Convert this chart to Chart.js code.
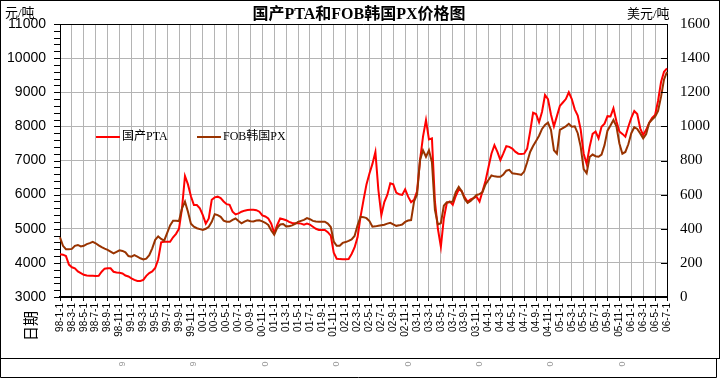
<!DOCTYPE html>
<html><head><meta charset="utf-8">
<script src="https://cdn.jsdelivr.net/npm/chart.js@4/dist/chart.umd.min.js"></script>
<style>html,body{margin:0;padding:0;background:#fff;overflow:hidden}#wrap{width:721px;height:379px;position:relative}</style>
</head><body><div id="wrap"><canvas id="c" width="721" height="379"></canvas></div>
<script>
const chartTitle = '国产PTA和FOB韩国PX价格图';
const leftUnit = '元/吨';
const rightUnit = '美元/吨';
const xTitle = '日期';
const seriesNames = ['国产PTA', 'FOB韩国PX'];

const tickLabels = [
 '98-1-1','98-3-1','98-5-1','98-7-1','98-9-1','98-11-1',
 '99-1-1','99-3-1','99-5-1','99-7-1','99-9-1','99-11-1',
 '00-1-1','00-3-1','00-5-1','00-7-1','00-9-1','00-11-1',
 '01-1-1','01-3-1','01-5-1','01-7-1','01-9-1','01-11-1',
 '02-1-1','02-3-1','02-5-1','02-7-1','02-9-1','02-11-1',
 '03-1-1','03-3-1','03-5-1','03-7-1','03-9-1','03-11-1',
 '04-1-1','04-3-1','04-5-1','04-7-1','04-9-1','04-11-1',
 '05-1-1','05-3-1','05-5-1','05-7-1','05-9-1','05-11-1',
 '06-1-1','06-3-1','06-5-1','06-7-1'];

// half-monthly readings, 98-1-1 .. 06-7-1 (yuan/ton)
const ptaValues = [
 4250,4240,4200,3950,3870,3840,3750,3700,3650,3630,
 3620,3620,3615,3620,3740,3830,3840,3840,3740,3720,
 3710,3690,3630,3600,3545,3500,3470,3470,3500,3620,
 3700,3750,3850,4100,4600,4620,4620,4620,4750,4850,
 5000,5600,6545,6300,5950,5695,5695,5600,5400,5150,
 5300,5850,5920,5940,5900,5800,5720,5700,5500,5420,
 5450,5500,5530,5550,5555,5560,5545,5500,5390,5360,
 5300,5150,4870,5110,5305,5280,5250,5200,5170,5160,
 5160,5150,5120,5150,5120,5060,5000,4965,4965,4965,
 4900,4800,4300,4120,4110,4105,4105,4110,4260,4450,
 4750,5350,5840,6300,6620,6900,7250,6135,5400,5780,
 5990,6330,6300,6060,6010,5990,6155,5940,5780,5850,
 6100,7010,7700,8185,7620,7650,5800,5000,4474,5300,
 5750,5800,5700,5960,6150,6100,5920,5790,5860,5900,
 5940,5800,6100,6400,6800,7200,7450,7250,7014,7210,
 7420,7400,7350,7260,7200,7190,7200,7350,7843,8400,
 8360,8120,8430,8919,8800,8350,8000,8300,8600,8700,
 8800,9000,8800,8500,8320,7900,7200,6900,7400,7780,
 7850,7650,7990,8080,8300,8290,8528,8150,7850,7780,
 7697,7990,8250,8450,8360,7943,7746,7900,8100,8250,
 8333,8750,9300,9600,9700];

// half-monthly readings (USD/ton)
const pxValues = [
 350,300,280,280,282,300,305,296,300,310,
 316,323,315,303,292,283,276,266,256,265,
 274,270,262,240,236,245,236,227,220,225,
 245,285,335,355,340,330,375,420,447,447,
 445,520,559,500,430,412,403,398,393,400,
 412,441,485,480,470,448,441,441,452,460,
 445,432,442,450,444,443,448,450,443,435,
 422,390,365,405,425,428,414,415,420,428,
 440,446,452,462,456,446,443,441,441,441,
 430,410,325,300,300,317,322,329,338,358,
 420,470,468,462,445,412,414,418,421,424,
 430,435,425,417,420,425,440,448,451,560,
 600,803,860,822,860,790,510,425,432,535,
 555,556,560,615,645,620,575,552,563,580,
 598,603,615,660,686,712,707,705,705,718,
 740,745,725,723,720,716,735,790,850,885,
 915,945,985,1008,1022,980,860,840,980,990,
 1000,1015,998,1000,960,880,750,725,820,835,
 825,822,835,890,975,1005,1037,1000,900,840,
 850,895,960,995,985,959,930,955,1020,1040,
 1057,1090,1174,1275,1320];

const categories = [];
for (let y = 1998; y <= 2006; y++) {
  for (let m = 1; m <= 12; m++) {
    for (const d of [1, 16]) {
      if (y === 2006 && (m > 7 || (m === 7 && d === 16))) continue;
      categories.push(String(y % 100).padStart(2, '0') + '-' + m + '-' + d);
    }
  }
}

const CJK = '"Liberation Serif","Noto Sans CJK SC"';

const deco = {
  id: 'deco',
  beforeDraw(chart) {
    const ctx = chart.ctx;
    ctx.save();
    ctx.fillStyle = '#fff';
    ctx.fillRect(0, 0, chart.width, chart.height);
    ctx.restore();
  },
  afterDraw(chart) {
    const { ctx, chartArea: a, scales } = chart;
    ctx.save();
    ctx.strokeStyle = '#000';
    ctx.lineWidth = 1;
    // plot top border
    ctx.beginPath();
    ctx.moveTo(a.left, a.top + 0.5); ctx.lineTo(a.right, a.top + 0.5);
    ctx.stroke();
    // inward ticks on right axis
    const y2 = scales.y2;
    ctx.beginPath();
    y2.ticks.forEach(t => {
      const py = Math.round(y2.getPixelForValue(t.value)) + 0.5;
      ctx.moveTo(a.right - 6, py); ctx.lineTo(a.right, py);
    });
    // outward major/minor ticks on left axis
    const y1 = scales.y;
    for (let v = y1.min; v <= y1.max; v += 200) {
      const py = Math.round(y1.getPixelForValue(v)) + 0.5;
      ctx.moveTo(a.left - 6, py); ctx.lineTo(a.left, py);
    }
    ctx.stroke();
    // title
    ctx.fillStyle = '#000';
    ctx.textBaseline = 'middle';
    ctx.textAlign = 'center';
    ctx.font = 'bold 16px ' + CJK;
    ctx.fillText(chartTitle, 359, 15);
    // units
    ctx.textAlign = 'left';
    ctx.font = '13px ' + CJK;
    ctx.fillText(leftUnit, 5, 14);
    ctx.fillText(rightUnit, 627, 15);
    // legend
    const ds = chart.data.datasets;
    const lx = [96, 197];
    ctx.font = '12px ' + CJK;
    ds.forEach((d, i) => {
      ctx.strokeStyle = d.borderColor;
      ctx.lineWidth = 2;
      ctx.beginPath();
      ctx.moveTo(lx[i], 137); ctx.lineTo(lx[i] + 24, 137);
      ctx.stroke();
      ctx.fillStyle = '#000';
      ctx.fillText(d.label, lx[i] + 26, 137);
    });
    // x title
    ctx.save();
    ctx.translate(30, 326);
    ctx.rotate(-Math.PI / 2);
    ctx.textAlign = 'center';
    ctx.font = '15px "Noto Sans CJK SC"';
    ctx.fillText(xTitle, 0, 0);
    ctx.restore();
    // frame
    ctx.strokeStyle = '#000';
    ctx.lineWidth = 1;
    ctx.strokeRect(0.5, 0.5, 719, 358);
    ctx.beginPath();
    ctx.moveTo(0.5, 358); ctx.lineTo(0.5, 377.5); ctx.lineTo(716.5, 377.5); ctx.lineTo(716.5, 358);
    ctx.stroke();
    // wrapped fragments of the long labels below the frame
    const xs = scales.x;
    ctx.fillStyle = '#999';
    ctx.font = '9px "Liberation Sans"';
    categories.forEach((c, i) => {
      if (tickLabels.includes(c) && c.length > 6) {
        ctx.save();
        ctx.translate(xs.getPixelForValue(i) + 3, 364);
        ctx.rotate(-Math.PI / 2);
        ctx.textAlign = 'center';
        ctx.fillText(c.charAt(0), 0, 0);
        ctx.restore();
      }
    });
    ctx.restore();
  }
};

new Chart(document.getElementById('c'), {
  type: 'line',
  data: {
    labels: categories,
    datasets: [
      { label: seriesNames[0], data: ptaValues, borderColor: '#ff0000', borderWidth: 2,
        pointRadius: 0, tension: 0, yAxisID: 'y', order: 1 },
      { label: seriesNames[1], data: pxValues, borderColor: '#993300', borderWidth: 2,
        pointRadius: 0, tension: 0, yAxisID: 'y2', order: 0 }
    ]
  },
  options: {
    responsive: false,
    animation: false,
    devicePixelRatio: 1,
    layout: { padding: { top: 24, left: 0, right: 0, bottom: 0 } },
    plugins: { legend: { display: false }, tooltip: { enabled: false }, title: { display: false } },
    scales: {
      x: {
        type: 'category',
        offset: false,
        grid: { color: '#b4b4b4', tickColor: '#000', tickLength: 4, lineWidth: 1 },
        border: { color: '#000', width: 2 },
        ticks: {
          autoSkip: false, maxRotation: 90, minRotation: 90, padding: 2,
          color: '#000', font: { family: 'Liberation Sans', size: 10 },
          callback: (v, i) => tickLabels.includes(categories[i]) ? categories[i] : null
        },
        afterFit(s) { s.height = 82; s.paddingLeft = 0; s.paddingRight = 0; }
      },
      y: {
        position: 'left', min: 3000, max: 11000,
        grid: { color: '#b4b4b4', drawTicks: false },
        border: { color: '#000', width: 1 },
        ticks: {
          stepSize: 1000, padding: 14, color: '#000',
          font: { family: 'Liberation Sans', size: 14 },
          callback: v => String(v)
        },
        afterFit(s) { s.width = 60; s.paddingTop = 0; s.paddingBottom = 0; }
      },
      y2: {
        position: 'right', min: 0, max: 1600,
        grid: { drawOnChartArea: false, drawTicks: false },
        border: { color: '#000', width: 1 },
        ticks: { stepSize: 200, padding: 13, color: '#000',
          font: { family: 'Liberation Serif', size: 15 },
          callback: v => String(v) },
        afterFit(s) { s.width = 54; s.paddingTop = 0; s.paddingBottom = 0; }
      }
    }
  },
  plugins: [deco]
});
</script>
</body></html>
